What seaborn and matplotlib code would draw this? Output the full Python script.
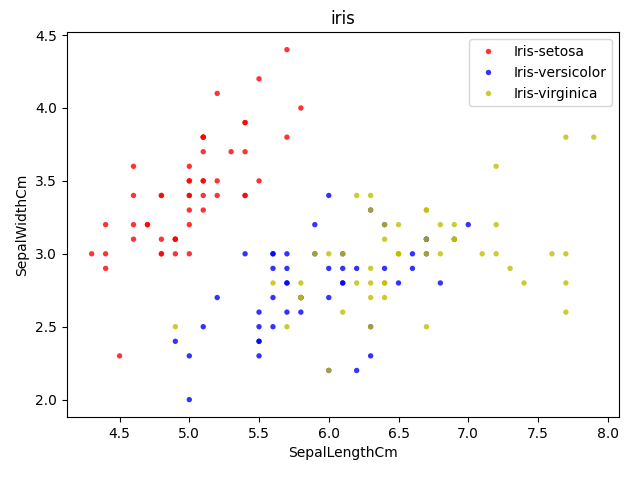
import matplotlib
matplotlib.use("Agg")
import matplotlib.pyplot as plt
import seaborn as sns
import pandas as pd

setosa_len = [5.1,4.9,4.7,4.6,5.0,5.4,4.6,5.0,4.4,4.9,5.4,4.8,4.8,4.3,5.8,5.7,5.4,5.1,5.7,5.1,
              5.4,5.1,4.6,5.1,4.8,5.0,5.0,5.2,5.2,4.7,4.8,5.4,5.2,5.5,4.9,5.0,5.5,4.9,4.4,5.1,
              5.0,4.5,4.4,5.0,5.1,4.8,5.1,4.6,5.3,5.0]
setosa_wid = [3.5,3.0,3.2,3.1,3.6,3.9,3.4,3.4,2.9,3.1,3.7,3.4,3.0,3.0,4.0,4.4,3.9,3.5,3.8,3.8,
              3.4,3.7,3.6,3.3,3.4,3.0,3.4,3.5,3.4,3.2,3.1,3.4,4.1,4.2,3.1,3.2,3.5,3.1,3.0,3.4,
              3.5,2.3,3.2,3.5,3.8,3.0,3.8,3.2,3.7,3.3]
versi_len = [7.0,6.4,6.9,5.5,6.5,5.7,6.3,4.9,6.6,5.2,5.0,5.9,6.0,6.1,5.6,6.7,5.6,5.8,6.2,5.6,
             5.9,6.1,6.3,6.1,6.4,6.6,6.8,6.7,6.0,5.7,5.5,5.5,5.8,6.0,5.4,6.0,6.7,6.3,5.6,5.5,
             5.5,6.1,5.8,5.0,5.6,5.7,5.7,6.2,5.1,5.7]
versi_wid = [3.2,3.2,3.1,2.3,2.8,2.8,3.3,2.4,2.9,2.7,2.0,3.0,2.2,2.9,2.9,3.1,3.0,2.7,2.2,2.5,
             3.2,2.8,2.5,2.8,2.9,3.0,2.8,3.0,2.9,2.6,2.4,2.4,2.7,2.7,3.0,3.4,3.1,2.3,3.0,2.5,
             2.6,3.0,2.6,2.3,2.7,3.0,2.9,2.9,2.5,2.8]
virg_len = [6.3,5.8,7.1,6.3,6.5,7.6,4.9,7.3,6.7,7.2,6.5,6.4,6.8,5.7,5.8,6.4,6.5,7.7,7.7,6.0,
            6.9,5.6,7.7,6.3,6.7,7.2,6.2,6.1,6.4,7.2,7.4,7.9,6.4,6.3,6.1,7.7,6.3,6.4,6.0,6.9,
            6.7,6.9,5.8,6.8,6.7,6.7,6.3,6.5,6.2,5.9]
virg_wid = [3.3,2.7,3.0,2.9,3.0,3.0,2.5,2.9,2.5,3.6,3.2,2.7,3.0,2.5,2.8,3.2,3.0,3.8,2.6,2.2,
            3.2,2.8,2.8,2.7,3.3,3.2,2.8,3.0,2.8,3.0,2.8,3.8,2.8,2.8,2.6,3.0,3.4,3.1,3.0,3.1,
            3.1,3.1,2.7,3.2,3.3,3.0,2.5,3.0,3.4,3.0]
species = ["Iris-setosa", "Iris-versicolor", "Iris-virginica"]
colors = ["red", "blue", "y"]

df = pd.DataFrame({
    "SepalLengthCm": setosa_len + versi_len + virg_len,
    "SepalWidthCm": setosa_wid + versi_wid + virg_wid,
    "Species": [species[0]] * 50 + [species[1]] * 50 + [species[2]] * 50,
})

fig, ax = plt.subplots(figsize=(6.4, 4.8), dpi=100)
sns.scatterplot(data=df, x="SepalLengthCm", y="SepalWidthCm", hue="Species",
                palette=dict(zip(species, colors)), s=15, alpha=0.8, linewidth=0, ax=ax)
ax.set_title("iris")
ax.legend(loc="upper right")
fig.subplots_adjust(left=0.104, right=0.967, top=0.933, bottom=0.131)
fig.savefig("out.png")
